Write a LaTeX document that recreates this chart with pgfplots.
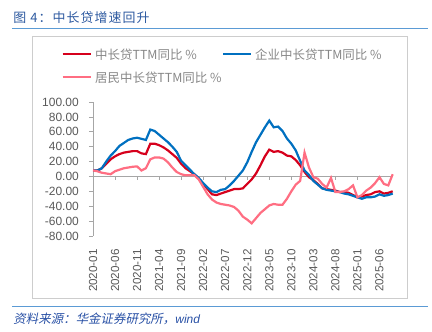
\documentclass[border=0pt]{standalone}
\usepackage{pgfplots}
\pgfplotsset{compat=1.18}
\usepackage{pgfplotstable}
\usepackage{fontspec}
\setmainfont{Liberation Sans}
\newfontfamily\cjk{Noto Sans CJK SC}
\newfontfamily\cjktitle{Noto Sans CJK SC}[LetterSpace=8]
\newfontfamily\cjkit{Noto Sans CJK SC}[FakeSlant=0.2]
\definecolor{cred}{RGB}{214,0,28}
\definecolor{cblue}{RGB}{0,112,192}
\definecolor{cpink}{RGB}{255,110,130}
\definecolor{ctitle}{RGB}{46,90,160}
\definecolor{crule}{RGB}{91,155,213}
\definecolor{csrc}{RGB}{40,80,165}
\definecolor{ctext}{RGB}{89,89,89}
\definecolor{clegend}{RGB}{135,135,135}
\definecolor{caxis}{RGB}{166,166,166}
\definecolor{cframe}{RGB}{205,205,205}

\pgfplotstableread{
i B R P
0 8 8 8
1 8 8 7
2 11 11 5
3 20 17 4
4 28 23 3
5 34 27 7
6 41 30 9
7 45 32 11
8 49 33 12
9 51 34 13
10 52 34 13.5
11 50.5 31 8
12 49 30 11
13 63 44 23
14 61 44 25.5
15 56 42 25.5
16 51 39 24
17 46 35 19
18 40 30 12
19 33 25 6
20 21 17 3
21 15 11 1.5
22 9 7 1.5
23 3 3 1.5
24 -2 -3 -4
25 -9 -10 -14
26 -15 -17 -24
27 -20 -24 -31
28 -21 -25 -35
29 -18 -23 -37
30 -17 -21 -38
31 -12 -19 -39
32 -6 -17 -41
33 1 -17 -46
34 8 -16 -54
35 19 -10 -58
36 33 -4 -63
37 46 4 -56
38 56 15 -49
39 66 27 -44
40 75 36 -39
41 66 33 -37
42 67 34 -38
43 61 32 -38
44 51 28 -30
45 44 27 -20
46 35 22 -11
47 21 15 -6
48 8 6 32
49 2 -1 12
50 -6 -5 -1
51 -11 -10 -3
52 -16 -16 -10
53 -18 -17 -15
54 -19 -18 -2
55 -20 -19 -21
56 -21 -21 -21
57 -23 -21 -20
58 -24 -22 -17
59 -26 -25 -12
60 -28 -28 -28
61 -30 -27 -25
62 -28 -25 -19
63 -28 -24 -15
64 -27 -21 -9
65 -24 -20 -1
66 -26 -23 -10
67 -25 -22 -12
68 -23 -20 3
}\loans

\begin{document}
\begin{tikzpicture}[x=1bp,y=1bp]
\path[use as bounding box] (0,0) rectangle (432,332);
% title
\node[anchor=west, inner sep=0pt, text=ctitle] at (13.3,314.5) {\fontsize{13}{15}\cjktitle 图 4：中长贷增速回升};
\draw[crule, line width=1.5bp] (12,303.3) -- (428,303.3);
% frame
\draw[cframe, line width=0.75bp] (32,34) rectangle (407,296);
% legend
\draw[cred, line width=2.2bp] (62.7,277.7) -- (90.7,277.7);
\node[anchor=west, inner sep=0pt, text=clegend] at (95,277.7) {\fontsize{12.5}{14}\cjk 中长贷TTM同比 \%};
\draw[cblue, line width=2.2bp] (223.3,277.7) -- (250.7,277.7);
\node[anchor=west, inner sep=0pt, text=clegend] at (255,277.7) {\fontsize{12.5}{14}\cjk 企业中长贷TTM同比 \%};
\draw[cpink, line width=2.2bp] (62.7,254.7) -- (90.7,254.7);
\node[anchor=west, inner sep=0pt, text=clegend] at (95,254.7) {\fontsize{12.5}{14}\cjk 居民中长贷TTM同比 \%};
% source
\draw[crule, line width=1.2bp] (12,25.7) -- (428,25.7);
\node[anchor=west, inner sep=0pt, text=csrc] at (13.3,13) {\fontsize{12.5}{14}\cjkit 资料来源：华金证券研究所，{\rmfamily\itshape\fontsize{12}{14}\selectfont wind}};

\begin{axis}[
  at={(93bp,96bp)}, anchor=south west,
  scale only axis, width=299.7bp, height=134bp,
  xmin=0, xmax=68, ymin=-80, ymax=100,
  clip=false,
  axis x line*=bottom, axis y line*=left,
  x axis line style={draw=none},
  y axis line style={draw=caxis, line width=0.75bp, -},
  xtick={0,5,...,65},
  xticklabels={2020-01,2020-06,2020-11,2021-04,2021-09,2022-02,2022-07,2022-12,2023-05,2023-10,2024-03,2024-08,2025-01,2025-06},
  x tick style={draw=none},
  xticklabel style={rotate=90, anchor=east, inner sep=0pt, font=\fontsize{11.7}{13}\selectfont, text=ctext},
  xticklabel shift=9bp,
  ytick={-80,-60,...,100},
  y tick style={draw=caxis, line width=0.75bp},
  tick align=outside, major tick length=4bp,
  yticklabel style={inner sep=0pt, anchor=east, font=\fontsize{12}{14}\selectfont, text=ctext,
    /pgf/number format/.cd, fixed, fixed zerofill, precision=2, assume math mode=true},
  yticklabel shift=10bp,
]
\draw[caxis, line width=0.75bp] (axis cs:0,0) -- (axis cs:68,0);
\pgfplotsinvokeforeach{5,10,...,65}{\draw[caxis, line width=0.75bp] (axis cs:#1,0) -- ([yshift=-4bp]axis cs:#1,0);}
\addplot[cred, line width=2.2bp, no marks] table[x=i, y=R] {\loans};
\addplot[cblue, line width=2.2bp, no marks] table[x=i, y=B] {\loans};
\addplot[cpink, line width=2.2bp, no marks] table[x=i, y=P] {\loans};
\end{axis}
\end{tikzpicture}
\end{document}
